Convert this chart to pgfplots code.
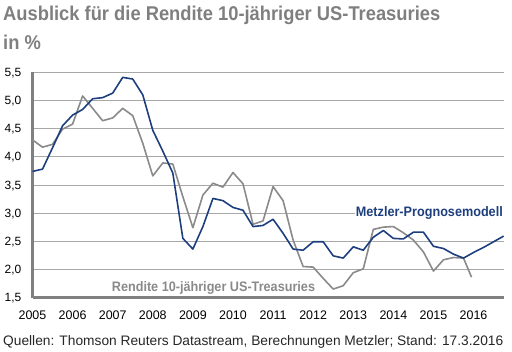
\documentclass[border=0pt]{standalone}
\usepackage{pgfplots}
\pgfplotsset{compat=1.18}
\usepackage{fontspec}
\setmainfont{Liberation Sans}
\newfontfamily\condfont{Liberation Sans}[FakeStretch=0.92]
\definecolor{mblue}{HTML}{1E3F7E}
\definecolor{mgray}{HTML}{8A8A8A}
\definecolor{tgray}{HTML}{7F7F7F}
\definecolor{agray}{HTML}{808080}
\definecolor{ggray}{HTML}{A8A8A8}
\begin{document}
\begin{tikzpicture}[x=1bp,y=1bp]
\path[use as bounding box] (0,0) rectangle (512,351);
\node[anchor=base west,inner sep=0pt,text=tgray] at (3,330.3) {\condfont\bfseries\fontsize{20}{20}\selectfont Ausblick für die Rendite 10-jähriger US-Treasuries};
\node[anchor=base west,inner sep=0pt,text=tgray] at (3,301.7) {\condfont\bfseries\fontsize{20}{20}\selectfont in \%};
\node[anchor=base west,inner sep=0pt,text=black!85] at (3,6) {\fontsize{13.8}{13.8}\selectfont Quellen: Thomson Reuters Datastream, Berechnungen Metzler; Stand: 17.3.2016};
\begin{axis}[
  at={(32.5bp,53.5bp)}, anchor=south west,
  scale only axis, width=471.5bp, height=225.2bp,
  xmin=2005, xmax=2016.76, ymin=1.5, ymax=5.5,
  axis x line=bottom, axis y line=left,
  axis line style={-, agray, line width=2.5bp},
  major tick length=0pt,
  xtick={2005,2006,2007,2008,2009,2010,2011,2012,2013,2014,2015,2016},
  xticklabels={2005,2006,2007,2008,2009,2010,2011,2012,2013,2014,2015,2016},
  ytick={1.5,2,2.5,3,3.5,4,4.5,5,5.5},
  ymajorgrids, grid style={ggray, line width=0.8bp},
  /pgf/number format/.cd, use comma, fixed, fixed zerofill, precision=1, assume math mode=true,
  /pgfplots/.cd,
  xticklabel style={anchor=base, inner sep=0pt, yshift=-22.2bp, font=\fontsize{12.5}{12.5}\selectfont},
  yticklabel style={anchor=base east, inner sep=0pt, xshift=-11bp, yshift=-4.2bp, font=\fontsize{12}{12}\selectfont},
  clip=false,
]
\addplot[mgray, line width=1.6bp, line join=round] coordinates {
(2005.00,4.30) (2005.25,4.17) (2005.50,4.22) (2005.75,4.49)
(2006.00,4.58) (2006.25,5.08) (2006.50,4.86) (2006.75,4.64)
(2007.00,4.69) (2007.25,4.86) (2007.50,4.73) (2007.75,4.24)
(2008.00,3.66) (2008.25,3.89) (2008.50,3.87) (2008.75,3.29)
(2009.00,2.74) (2009.25,3.32) (2009.50,3.53) (2009.75,3.46)
(2010.00,3.72) (2010.25,3.52) (2010.50,2.80) (2010.75,2.86)
(2011.00,3.47) (2011.25,3.22) (2011.50,2.52) (2011.75,2.05)
(2012.00,2.04) (2012.25,1.84) (2012.50,1.65) (2012.75,1.71)
(2013.00,1.94) (2013.25,2.01) (2013.50,2.71) (2013.75,2.75)
(2014.00,2.76) (2014.25,2.65) (2014.50,2.52) (2014.75,2.31)
(2015.00,1.97) (2015.25,2.17) (2015.50,2.21) (2015.75,2.20)
(2015.95,1.86)
};
\addplot[mblue, line width=1.6bp, line join=round] coordinates {
(2005.00,3.74) (2005.25,3.78) (2005.50,4.16) (2005.75,4.55)
(2006.00,4.74) (2006.25,4.84) (2006.50,5.03) (2006.75,5.05)
(2007.00,5.13) (2007.25,5.41) (2007.50,5.38) (2007.75,5.10)
(2008.00,4.47) (2008.25,4.10) (2008.50,3.71) (2008.75,2.55)
(2009.00,2.36) (2009.25,2.76) (2009.50,3.26) (2009.75,3.22)
(2010.00,3.10) (2010.25,3.05) (2010.50,2.76) (2010.75,2.78)
(2011.00,2.89) (2011.25,2.64) (2011.50,2.36) (2011.75,2.34)
(2012.00,2.49) (2012.25,2.49) (2012.50,2.24) (2012.75,2.20)
(2013.00,2.40) (2013.25,2.34) (2013.50,2.57) (2013.75,2.69)
(2014.00,2.55) (2014.25,2.54) (2014.50,2.66) (2014.75,2.66)
(2015.00,2.41) (2015.25,2.37) (2015.50,2.27) (2015.75,2.20)
(2016.00,2.30) (2016.25,2.39) (2016.50,2.49) (2016.75,2.59)
};
\node[anchor=base east, inner sep=0pt, text=mblue, fill=white, inner xsep=1bp] at (axis cs:2016.76,2.93) {\condfont\bfseries\fontsize{13.8}{13.8}\selectfont Metzler-Prognosemodell};
\node[anchor=base west, inner sep=0pt, text=mgray] at (axis cs:2006.975,1.607) {\condfont\bfseries\fontsize{13.8}{13.8}\selectfont Rendite 10-jähriger US-Treasuries};
\end{axis}
\end{tikzpicture}
\end{document}
